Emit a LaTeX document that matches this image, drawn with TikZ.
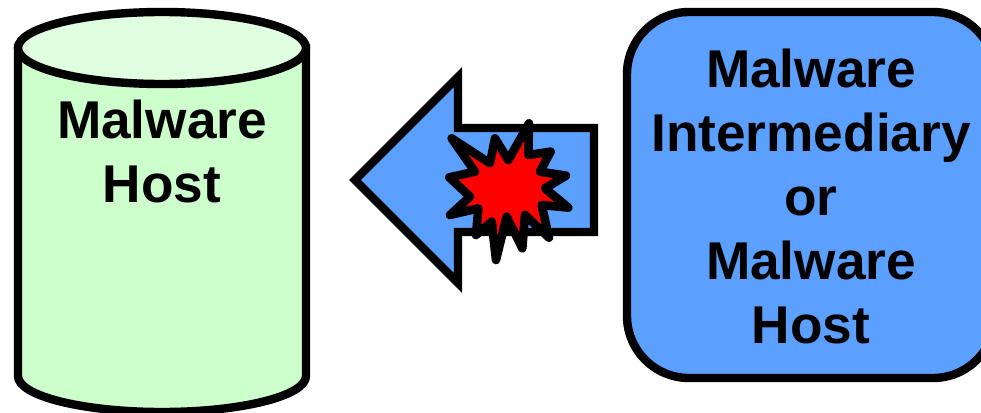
\documentclass[tikz,border=0pt]{standalone}
\usepackage{fontspec}
\setmainfont{Liberation Sans}
\definecolor{boxblue}{HTML}{5B9FFF}
\definecolor{cylgreen}{HTML}{CCFFCC}
\definecolor{cyltop}{HTML}{E0FFE0}
\definecolor{burst}{HTML}{FF0000}
\tikzset{
  outline/.style={draw=black,line width=8.4pt,line join=miter,miter limit=10},
  label text/.style={font=\fontsize{53.2}{64}\selectfont\bfseries,align=center,text=black,inner sep=0pt},
}
\begin{document}
\begin{tikzpicture}[x=1pt,y=-1pt]
\useasboundingbox (0,0) rectangle (981,412);
\clip (0,0) rectangle (981,412);
% cylinder
\path[outline,fill=cylgreen] (18,48) -- (18,376) arc[start angle=180,end angle=360,x radius=144,y radius=-36] -- (306,48) -- cycle;
\path[outline,fill=cyltop] (162,48) ellipse[x radius=144,y radius=36];
\node[label text] (host) at (162,151) {Malware\\Host};
% arrow
\path[outline,fill=boxblue] (355,180) -- (458,77) -- (458,128) -- (594,128) -- (594,232) -- (458,232) -- (458,283) -- cycle;
% burst
\begin{scope}[shift={(340,60)},x=0.3333pt,y=-0.3333pt]
\path[draw=black,line width=8.6pt,line join=round,fill=burst]
 (335,235) -- (450,310) -- (465,235) -- (505,300) -- (567,190) -- (565,285) -- (632,275) -- (600,335) -- (678,347) -- (615,385) -- (685,443) -- (605,435) -- (627,533) -- (555,465) -- (547,565) -- (500,470) -- (468,600) -- (455,485) -- (408,525) -- (415,445) -- (330,465) -- (390,410) -- (328,352) -- (405,335) -- cycle;
\end{scope}
% box
\path[outline,fill=boxblue,rounded corners=62pt] (627,12) rectangle (995,378);
\node[label text] (inter) at (811,196.5) {Malware\\Intermediary\\or\\Malware\\Host};
\end{tikzpicture}
\end{document}
